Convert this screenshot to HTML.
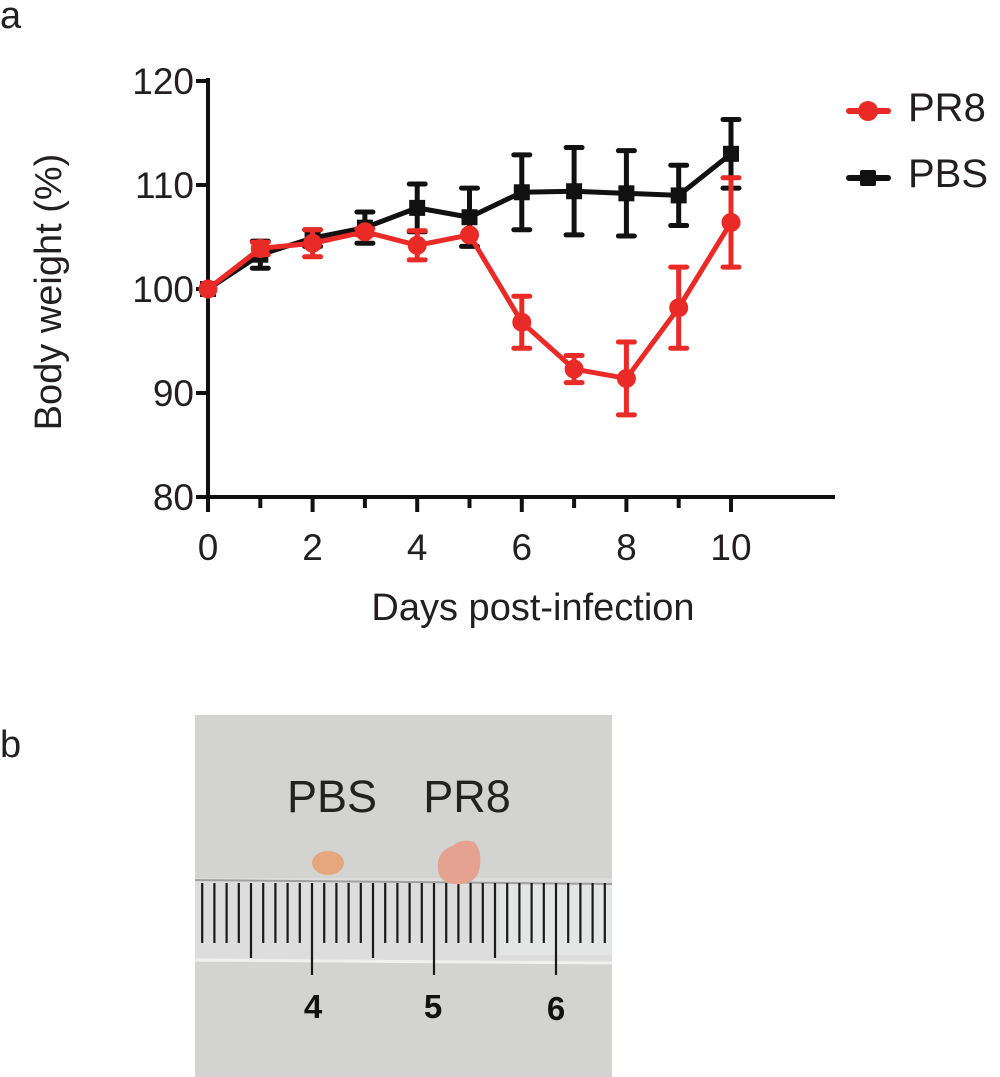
<!DOCTYPE html>
<html><head><meta charset="utf-8"><style>
body{margin:0;background:#fff;width:1000px;height:1077px;overflow:hidden;font-family:"Liberation Sans",Arial,sans-serif}
svg{position:absolute;left:0;top:0}
</style></head><body>
<svg width="1000" height="1077" viewBox="0 0 1000 1077">
<text x="0" y="28" font-size="38" fill="#231f20">a</text>
<text x="0" y="757" font-size="38" fill="#231f20">b</text>
<g id="chart"></g>
<g id="photo">
<rect x="195" y="715" width="417" height="362" fill="#d3d3d1"/>
<rect x="195" y="878" width="417" height="84" fill="#dcdddc"/>
<rect x="500" y="885" width="112" height="70" fill="#e6e8e8" opacity="0.8"/>
<line x1="195" y1="880" x2="612" y2="884" stroke="#a0a0a0" stroke-width="2"/>
<line x1="195" y1="960" x2="612" y2="963" stroke="#f0f0f0" stroke-width="3"/>
<g id="rticks"></g>
<text x="313" y="1018" font-size="33" font-weight="bold" text-anchor="middle" fill="#111">4</text>
<text x="433" y="1018" font-size="33" font-weight="bold" text-anchor="middle" fill="#111">5</text>
<text x="556" y="1020" font-size="33" font-weight="bold" text-anchor="middle" fill="#111">6</text>
<text x="332" y="812" font-size="45" text-anchor="middle" fill="#222">PBS</text>
<text x="467" y="812" font-size="45" text-anchor="middle" fill="#222">PR8</text>
<ellipse cx="328" cy="863" rx="16" ry="12" fill="#e7a77e"/>
<path d="M438 870 Q436 852 452 846 Q462 838 474 842 Q482 850 480 866 Q478 882 462 884 Q440 886 438 870Z" fill="#e6a291"/>
</g>
</svg>
<script>
const days=[0,1,2,3,4,5,6,7,8,9,10];
const pbsMean=[100,103.3,104.9,105.9,107.8,106.9,109.3,109.4,109.2,109.0,113.0];
const pbsErr=[0,1.3,0.8,1.5,2.3,2.8,3.6,4.2,4.1,2.9,3.3];
const pr8Mean=[100,103.9,104.4,105.5,104.2,105.2,96.8,92.3,91.4,98.2,106.4];
const pr8Err=[0,0.6,1.3,0.3,1.4,0,2.5,1.3,3.5,3.9,4.3];
const yTicks=[80,90,100,110,120];
const xTicks=[0,2,4,6,8,10];
const NS='http://www.w3.org/2000/svg';
const X=d=>208+d*52.3, Y=v=>497-(v-80)*10.4;
const g=document.getElementById('chart');
function mk(t,a,p){const e=document.createElementNS(NS,t);for(const k in a)e.setAttribute(k,a[k]);(p||g).appendChild(e);return e;}
let ax=mk('line',{x1:208,y1:78,x2:208,y2:499,stroke:'#111',"stroke-width":4});


let bx=mk('line',{x1:206,y1:497,x2:835,y2:497,stroke:'#111',"stroke-width":4});


yTicks.forEach(v=>{mk('line',{x1:196,y1:Y(v),x2:208,y2:Y(v),stroke:'#111',"stroke-width":4});
 const t=mk('text',{x:194,y:Y(v)+13,"font-size":37,"text-anchor":"end",fill:'#231f20'});t.textContent=v;
 
 });
days.forEach(d=>mk('line',{x1:X(d),y1:497,x2:X(d),y2:(d%2?508:512),stroke:'#111',"stroke-width":4}));
xTicks.forEach(d=>{const t=mk('text',{x:X(d),y:560,"font-size":37,"text-anchor":"middle",fill:'#231f20'});t.textContent=d;
 
 });
let xt=mk('text',{x:533,y:620,"font-size":38,"text-anchor":"middle",fill:'#231f20'});xt.textContent='Days post-infection';


let yt=mk('text',{x:0,y:0,"font-size":38,"text-anchor":"middle",fill:'#231f20',transform:'translate(61,292) rotate(-90)'});yt.textContent='Body weight (%)';


function series(mean,err,col,sq,name){
 const sg=mk('g',{});
 
 
 days.forEach((d,i)=>{if(err[i]>0){const x=X(d);mk('line',{x1:x,y1:Y(mean[i]+err[i]),x2:x,y2:Y(mean[i]-err[i]),stroke:col,"stroke-width":5},sg);
  [mean[i]+err[i],mean[i]-err[i]].forEach(v=>mk('line',{x1:x-8,y1:Y(v),x2:x+8,y2:Y(v),stroke:col,"stroke-width":5,"stroke-linecap":"round"},sg));}});
 mk('polyline',{points:days.map((d,i)=>X(d)+','+Y(mean[i])).join(' '),fill:'none',stroke:col,"stroke-width":5},sg);
 days.forEach((d,i)=>{let m=sq?mk('rect',{x:X(d)-8,y:Y(mean[i])-8,width:16,height:16,fill:col},sg):mk('circle',{cx:X(d),cy:Y(mean[i]),r:9.5,fill:col},sg);
  
  });
}
series(pbsMean,pbsErr,'#111',true,'pbs');
series(pr8Mean,pr8Err,'#ea2a26',false,'pr8');
const lg=mk('g',{});


mk('line',{x1:849,y1:111,x2:888,y2:111,stroke:'#ea2a26',"stroke-width":6,"stroke-linecap":"round"},lg);
mk('circle',{cx:868,cy:111,r:10,fill:'#ea2a26'},lg);
let l1=mk('text',{x:908,y:121,"font-size":40,fill:'#231f20'},lg);l1.textContent='PR8';


mk('line',{x1:849,y1:178,x2:888,y2:178,stroke:'#111',"stroke-width":6,"stroke-linecap":"round"},lg);
mk('rect',{x:860,y:170,width:16,height:16,rx:2,fill:'#111'},lg);
let l2=mk('text',{x:908,y:187,"font-size":40,fill:'#231f20'},lg);l2.textContent='PBS';


const rt=document.getElementById('rticks');
for(let k=-10;k<=28;k++){const x=312+k*12.2;if(x<197||x>610)continue;
 const end=(k%10===0)?975:(k%5===0?958:943);
 mk('line',{x1:x,y1:883,x2:x,y2:end,stroke:'#1a1a1a',"stroke-width":2.2},rt);}
</script>
</body></html>
